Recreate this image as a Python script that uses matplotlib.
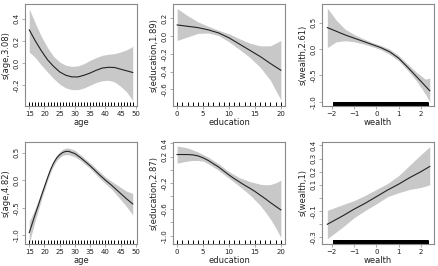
import numpy as np
import matplotlib
matplotlib.use("Agg")
import matplotlib.pyplot as plt

# --- data ---

# top row
age1_x = [15, 17, 19, 21, 23, 25, 27, 29, 31, 33, 35, 37, 39, 41, 43, 45, 47, 49]
age1_fit = [0.30, 0.20, 0.11, 0.03, -0.03, -0.08, -0.11, -0.125, -0.125, -0.11, -0.09,
            -0.065, -0.045, -0.038, -0.04, -0.055, -0.07, -0.085]
age1_up = [0.49, 0.36, 0.24, 0.14, 0.06, 0.01, -0.02, -0.03, -0.025, -0.005, 0.025,
           0.05, 0.07, 0.08, 0.085, 0.10, 0.12, 0.15]
age1_lo = [0.10, 0.05, -0.02, -0.08, -0.14, -0.19, -0.225, -0.24, -0.24, -0.225, -0.2,
           -0.175, -0.16, -0.155, -0.17, -0.21, -0.26, -0.34]

edu1_x = [0, 2, 4, 6, 8, 10, 12, 14, 16, 18, 20]
edu1_fit = [0.125, 0.11, 0.095, 0.07, 0.035, -0.02, -0.09, -0.16, -0.23, -0.31, -0.385]
edu1_up = [0.31, 0.23, 0.16, 0.11, 0.065, 0.025, -0.03, -0.08, -0.11, -0.11, -0.05]
edu1_lo = [-0.05, -0.01, 0.03, 0.035, 0.005, -0.065, -0.15, -0.24, -0.35, -0.5, -0.72]

wea1_x = [-2.2, -1.8, -1.4, -1.0, -0.6, -0.2, 0.2, 0.6, 1.0, 1.4, 1.8, 2.2, 2.4]
wea1_fit = [0.41, 0.34, 0.27, 0.21, 0.15, 0.09, 0.03, -0.05, -0.17, -0.34, -0.52, -0.70, -0.79]
wea1_up = [0.78, 0.55, 0.38, 0.28, 0.20, 0.13, 0.07, 0.0, -0.12, -0.28, -0.44, -0.57, -0.55]
wea1_lo = [0.03, 0.14, 0.16, 0.14, 0.10, 0.05, -0.01, -0.10, -0.22, -0.40, -0.60, -0.85, -1.0]

# bottom row
age2_x = [15, 16, 17, 18, 19, 20, 21, 22, 23, 24, 25, 26, 27, 28, 30, 32, 35, 38, 40, 42, 45, 47, 49]
age2_fit = [-0.95, -0.78, -0.61, -0.45, -0.28, -0.12, 0.04, 0.19, 0.31, 0.40, 0.46, 0.50, 0.52,
            0.52, 0.48, 0.40, 0.26, 0.10, 0.0, -0.09, -0.24, -0.34, -0.43]
age2_up = [-0.75, -0.63, -0.50, -0.36, -0.21, -0.06, 0.09, 0.24, 0.36, 0.45, 0.51, 0.56, 0.58,
           0.58, 0.54, 0.45, 0.31, 0.16, 0.06, -0.02, -0.13, -0.2, -0.24]
age2_lo = [-1.14, -0.93, -0.72, -0.54, -0.35, -0.18, -0.01, 0.14, 0.26, 0.35, 0.41, 0.45, 0.46,
           0.46, 0.42, 0.35, 0.21, 0.04, -0.06, -0.16, -0.35, -0.48, -0.63]

edu2_x = list(range(0, 21))
edu2_fit = [0.23, 0.23, 0.23, 0.225, 0.21, 0.18, 0.14, 0.09, 0.04, -0.02, -0.08, -0.135,
            -0.185, -0.235, -0.28, -0.33, -0.385, -0.44, -0.50, -0.555, -0.61]
edu2_up = [0.36, 0.345, 0.33, 0.30, 0.27, 0.23, 0.19, 0.14, 0.09, 0.03, -0.03, -0.075,
           -0.12, -0.15, -0.18, -0.20, -0.22, -0.23, -0.225, -0.20, -0.16]
edu2_lo = [0.10, 0.115, 0.13, 0.14, 0.14, 0.13, 0.09, 0.04, -0.01, -0.07, -0.13, -0.19,
           -0.25, -0.315, -0.38, -0.46, -0.54, -0.64, -0.75, -0.88, -1.03]

wea2_x = [-2.2, -1.5, -1.0, -0.5, 0.0, 0.5, 1.0, 1.5, 2.0, 2.4]
wea2_fit = [-0.20, -0.135, -0.085, -0.04, 0.01, 0.06, 0.105, 0.155, 0.20, 0.24]
wea2_up = [-0.094, -0.05, -0.02, 0.02, 0.065, 0.11, 0.17, 0.25, 0.33, 0.39]
wea2_lo = [-0.31, -0.22, -0.15, -0.095, -0.045, 0.01, 0.04, 0.065, 0.08, 0.10]

# rug values
age_rug = list(range(15, 50))
edu_rug = list(range(0, 21))
wealth_rug = np.round(np.arange(-1.95, 2.31, 0.005), 3)

panels = [
    # x, fit, up, lo, rug, xlabel, ylabel, xlim, ylim, xticks, yticks, ylabels shown
    (age1_x, age1_fit, age1_up, age1_lo, age_rug, "age", "s(age,3.08)",
     (13.6, 50.4), (-0.388, 0.534), range(15, 51, 5),
     [-0.2, 0.0, 0.2, 0.4], ["-0.2", "0.0", "0.2", "0.4"]),
    (edu1_x, edu1_fit, edu1_up, edu1_lo, edu_rug, "education", "s(education,1.89)",
     (-0.8, 20.8), (-0.788, 0.361), range(0, 21, 5),
     [-0.6, -0.4, -0.2, 0.0, 0.2], ["-0.6", "-0.4", "-0.2", "0.0", "0.2"]),
    (wea1_x, wea1_fit, wea1_up, wea1_lo, wealth_rug, "wealth", "s(wealth,2.61)",
     (-2.44, 2.59), (-1.08, 0.858), range(-2, 3),
     [-1.0, -0.5, 0.0, 0.5], ["-1.0", "-0.5", "0.0", "0.5"]),
    (age2_x, age2_fit, age2_up, age2_lo, age_rug, "age", "s(age,4.82)",
     (13.6, 50.4), (-1.155, 0.69), range(15, 51, 5),
     [-1.0, -0.5, 0.0, 0.5], ["-1.0", "-0.5", "0.0", "0.5"]),
    (edu2_x, edu2_fit, edu2_up, edu2_lo, edu_rug, "education", "s(education,2.87)",
     (-0.8, 20.8), (-1.127, 0.42), range(0, 21, 5),
     [-1.0, -0.8, -0.6, -0.4, -0.2, 0.0, 0.2, 0.4],
     ["-1.0", "", "-0.6", "", "-0.2", "", "0.2", "0.4"]),
    (wea2_x, wea2_fit, wea2_up, wea2_lo, wealth_rug, "wealth", "s(wealth,1)",
     (-2.44, 2.59), (-0.35, 0.426), range(-2, 3),
     [-0.3, -0.2, -0.1, 0.0, 0.1, 0.2, 0.3, 0.4],
     ["-0.3", "", "-0.1", "", "0.1", "0.2", "0.3", "0.4"]),
]

W, H = 438, 266
fig = plt.figure(figsize=(W / 100, H / 100), dpi=100)

col_left = [25, 173, 322]
row_top = [4, 142]
box_w, box_h = 112, 102

frame_col = "#8a8a8a"
text_col = "#222222"

for i, p in enumerate(panels):
    (x, fit, up, lo, rug, xlab, ylab, xlim, ylim, xt, yt, ytl) = p
    r, c = divmod(i, 3)
    l = col_left[c] / W
    b = (H - row_top[r] - box_h) / H
    ax = fig.add_axes([l, b, box_w / W, box_h / H])
    ax.fill_between(x, lo, up, color="#c8c8c8", lw=0)
    ax.plot(x, fit, color="#222222", lw=0.8)
    ax.vlines(rug, 0, 0.04, transform=ax.get_xaxis_transform(), color="black", lw=0.7)
    ax.set_xlim(*xlim)
    ax.set_ylim(*ylim)
    ax.set_xticks(list(xt))
    ax.set_yticks(yt)
    ax.set_yticklabels(ytl, rotation=90, va="center")
    ax.tick_params(labelsize=5, length=2.5, width=0.5, color=frame_col,
                   labelcolor=text_col, pad=1.2)
    for s in ax.spines.values():
        s.set_color(frame_col)
        s.set_linewidth(0.8)
    ax.set_xlabel(xlab, fontsize=6, color=text_col, labelpad=0.3)
    ax.set_ylabel(ylab, fontsize=6, color=text_col, labelpad=2)

fig.savefig("out.png", dpi=100)
